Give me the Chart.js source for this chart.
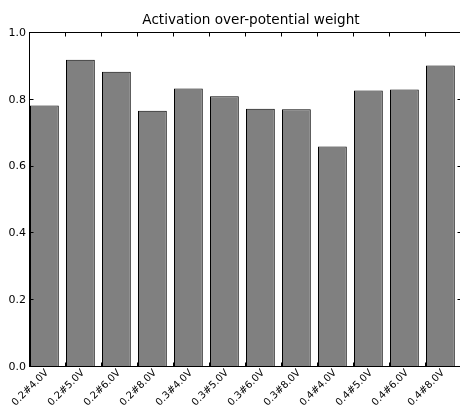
<!DOCTYPE html>
<html>
<head>
<meta charset="utf-8">
<script src="https://cdn.jsdelivr.net/npm/chart.js@4"></script>
<style>
  html, body { margin: 0; padding: 0; background: #fff; overflow: hidden; }
  #wrap { width: 460px; height: 415px; overflow: hidden; }
  canvas { display: block; }
</style>
</head>
<body>
<div id="wrap"><canvas id="c" width="470" height="415"></canvas></div>
<script>
// Experiment cases (concentration # voltage) and their activation over-potential weights
const categories = ['0.2#4.0V', '0.2#5.0V', '0.2#6.0V', '0.2#8.0V',
                    '0.3#4.0V', '0.3#5.0V', '0.3#6.0V', '0.3#8.0V',
                    '0.4#4.0V', '0.4#5.0V', '0.4#6.0V', '0.4#8.0V'];
const weights = [0.783, 0.920, 0.884, 0.767, 0.834, 0.811,
                 0.773, 0.772, 0.660, 0.828, 0.831, 0.903];
const yTicks = [0.0, 0.2, 0.4, 0.6, 0.8, 1.0];
const chartTitle = 'Activation over-potential weight';

const FONT = 'DejaVu Sans';

// Bars start at each integer slot and span 0.8 of it
const points = weights.map((v, i) => ({ x: i + 0.4, y: v }));

// Frame, inward tick marks and the title
const framePlugin = {
  id: 'frame',
  afterDatasetsDraw(chart) {
    const { ctx, chartArea: a, scales: { x, y } } = chart;
    ctx.save();
    ctx.strokeStyle = '#000';
    ctx.lineWidth = 1;
    const L = Math.round(a.left) - 0.5, R = Math.round(a.right) - 0.5;
    const T = Math.round(a.top) - 0.5, B = Math.round(a.bottom) - 0.5;
    ctx.strokeRect(L, T, R - L, B - T);
    const tl = 4;
    ctx.beginPath();
    yTicks.forEach(v => {
      const py = Math.round(y.getPixelForValue(v)) - 0.5;
      ctx.moveTo(L, py); ctx.lineTo(L + tl, py);
      ctx.moveTo(R, py); ctx.lineTo(R - tl, py);
    });
    for (let i = 0; i <= categories.length; i++) {
      const px = Math.round(x.getPixelForValue(i)) - 0.5;
      ctx.moveTo(px, T); ctx.lineTo(px, T + tl);
      ctx.moveTo(px, B); ctx.lineTo(px, B - tl);
    }
    ctx.stroke();
    ctx.fillStyle = '#000';
    ctx.font = '13.6px "' + FONT + '"';
    ctx.textAlign = 'center';
    ctx.textBaseline = 'alphabetic';
    ctx.fillText(chartTitle, (a.left + a.right) / 2 + 5, 24);
    ctx.restore();
  }
};

new Chart(document.getElementById('c'), {
  type: 'bar',
  data: {
    datasets: [{
      data: points,
      backgroundColor: '#808080',
      borderColor: '#000',
      borderWidth: 1,
      borderSkipped: false,
      categoryPercentage: 1.0,
      barPercentage: 0.8
    }]
  },
  options: {
    responsive: false,
    animation: false,
    devicePixelRatio: 1,
    layout: { padding: { left: 0, top: 33, right: 8, bottom: 0 } },
    plugins: {
      legend: { display: false },
      title: { display: false },
      tooltip: { enabled: false }
    },
    scales: {
      x: {
        type: 'linear',
        min: 0,
        max: categories.length,
        offset: false,
        grid: { display: false, drawTicks: false, offset: false },
        border: { display: false },
        afterBuildTicks(s) {
          s.ticks = categories.map((_, i) => ({ value: i }));
        },
        afterFit(s) {
          s.height = 48;
          s.paddingLeft = 0;
          s.paddingRight = 0;
        },
        ticks: {
          autoSkip: false,
          minRotation: 45,
          maxRotation: 45,
          padding: 0,
          labelOffset: 17,
          color: '#000',
          font: { family: FONT, size: 10 },
          callback: (v) => categories[v] ?? ''
        }
      },
      y: {
        min: 0,
        max: 1,
        grid: { display: false, drawTicks: false },
        border: { display: false },
        afterBuildTicks(s) {
          s.ticks = yTicks.map(v => ({ value: v }));
        },
        afterFit(s) { s.width = 30; },
        ticks: {
          padding: 4,
          color: '#000',
          font: { family: FONT, size: 11 },
          callback: (v) => Number(v).toFixed(1)
        }
      }
    }
  },
  plugins: [framePlugin]
});
</script>
</body>
</html>
